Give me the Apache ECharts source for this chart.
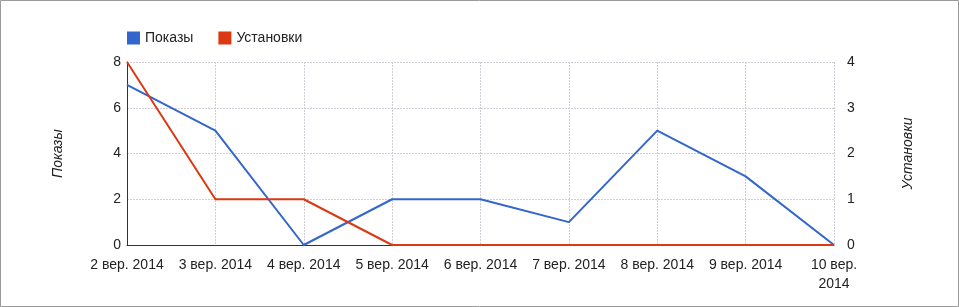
<!DOCTYPE html>
<html><head><meta charset="utf-8">
<script src="https://cdn.jsdelivr.net/npm/echarts@6/dist/echarts.min.js"></script>
<style>html,body{margin:0;padding:0;background:#fff}#c{width:959px;height:307px}</style>
</head><body><div id="c"></div>
<script>
const categories = ['2 вер. 2014','3 вер. 2014','4 вер. 2014','5 вер. 2014','6 вер. 2014','7 вер. 2014','8 вер. 2014','9 вер. 2014','10 вер. 2014'];
const shows = [7, 5, 0, 2, 2, 1, 5, 3, 0];
const installs = [4, 1, 1, 0, 0, 0, 0, 0, 0];
const leftTicks = [0, 2, 4, 6, 8];
const rightTicks = [0, 1, 2, 3, 4];

const font = 'Arial, "Liberation Sans", sans-serif';
const gridLine = {show: true, lineStyle: {color: '#d2ccd6', type: [2, 1], width: 1}};
const chart = echarts.init(document.getElementById('c'));
chart.setOption({
  animation: false,
  textStyle: {fontFamily: font},
  graphic: [{type: 'rect', shape: {x: 0.5, y: 0.5, width: 958, height: 306}, style: {fill: 'none', stroke: '#9a9a9a', lineWidth: 1}, silent: true}],
  legend: {
    left: 127, top: 31, padding: 0, itemWidth: 13, itemHeight: 13, itemGap: 25,
    icon: 'rect',
    textStyle: {fontSize: 14, color: '#222', fontFamily: font, padding: [0, 0, 0, 0]},
    data: ['Показы', 'Установки']
  },
  grid: {left: 127, right: 125, top: 62, bottom: 62, containLabel: false},
  xAxis: {
    type: 'category', data: categories, boundaryGap: false,
    axisLine: {lineStyle: {color: '#333', width: 1}},
    axisTick: {show: false},
    axisLabel: {
      interval: 0, fontSize: 14, color: '#222', margin: 11, lineHeight: 19,
      formatter: (v, i) => i === categories.length - 1 ? v.replace(' 2014', '\n2014') : v
    },
    splitLine: gridLine
  },
  yAxis: [{
    type: 'value', min: leftTicks[0], max: leftTicks[leftTicks.length - 1], interval: 2,
    name: 'Показы', nameLocation: 'middle', nameGap: 62, nameRotate: 90,
    nameTextStyle: {fontStyle: 'italic', fontSize: 14, color: '#222'},
    axisLine: {show: true, lineStyle: {color: '#333'}},
    axisTick: {show: false},
    axisLabel: {fontSize: 14, color: '#222', margin: 6},
    splitLine: gridLine
  }, {
    type: 'value', min: rightTicks[0], max: rightTicks[rightTicks.length - 1], interval: 1,
    name: 'Установки', nameLocation: 'middle', nameGap: 67, nameRotate: 90,
    nameTextStyle: {fontStyle: 'italic', fontSize: 14, color: '#222'},
    axisLine: {show: false},
    axisTick: {show: false},
    axisLabel: {fontSize: 14, color: '#222', margin: 13},
    splitLine: {show: false}
  }],
  series: [{
    name: 'Показы', type: 'line', data: shows, yAxisIndex: 0,
    showSymbol: false, symbol: 'none', color: '#3366cc', lineStyle: {width: 2, color: '#3366cc'}
  }, {
    name: 'Установки', type: 'line', data: installs, yAxisIndex: 1,
    showSymbol: false, symbol: 'none', color: '#dc3912', lineStyle: {width: 2, color: '#dc3912'}
  }]
});
</script></body></html>
